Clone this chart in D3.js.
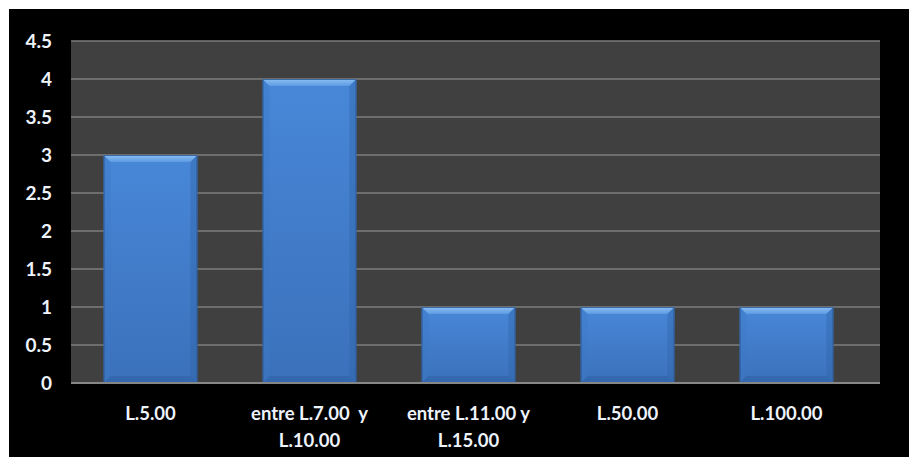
<!DOCTYPE html>
<html>
<head>
<meta charset="utf-8">
<script src="https://cdn.jsdelivr.net/npm/d3@7/dist/d3.min.js"></script>
<style>
  html, body { margin: 0; padding: 0; background: #ffffff; }
  svg { display: block; }
  text { font-family: Lato, "Open Sans", sans-serif; font-weight: bold; fill: #eef3fb; }
</style>
</head>
<body>
<svg id="chart" width="909" height="457"></svg>
<script>
// Price ranges and how many answers fell in each
const categories = [
  ["L.5.00"],
  ["entre L.7.00\u00a0 y", "L.10.00"],
  ["entre L.11.00 y", "L.15.00"],
  ["L.50.00"],
  ["L.100.00"]
];
const values = [3, 4, 1, 1, 1];
const yTicks = [0, 0.5, 1, 1.5, 2, 2.5, 3, 3.5, 4, 4.5];

const svg = d3.select("#chart");
const W = 909, H = 457;

// black chart frame with a thin white margin on the top and left
svg.append("rect").attr("x", 9).attr("y", 9).attr("width", W - 9).attr("height", H - 9).attr("fill", "#000");

const plot = { left: 71, right: 880, top: 41, bottom: 383 };

const x = d3.scaleBand()
  .domain(d3.range(categories.length))
  .range([plot.left, 866])
  .paddingInner(0.41)
  .paddingOuter(0.205);

const y = d3.scaleLinear().domain([0, 4.5]).range([plot.bottom, plot.top]);

// plot background
svg.append("rect")
  .attr("x", plot.left).attr("y", plot.top)
  .attr("width", plot.right - plot.left).attr("height", plot.bottom - plot.top)
  .attr("fill", "#404040");

// horizontal gridlines
svg.append("g").selectAll("line").data(yTicks.filter(d => d > 0)).join("line")
  .attr("x1", plot.left).attr("x2", plot.right)
  .attr("y1", d => y(d)).attr("y2", d => y(d))
  .attr("stroke", "#7c7c7c").attr("stroke-width", 1.6);

// y axis labels
const yAxis = d3.axisLeft(y).tickValues(yTicks).tickSize(0).tickPadding(0)
  .tickFormat(d => String(d));
const gy = svg.append("g").attr("transform", `translate(${plot.left - 19},0)`).call(yAxis);
gy.select(".domain").remove();
gy.selectAll("text").attr("font-size", 19).attr("fill", "#eef3fb")
  .attr("font-family", "Lato, sans-serif").attr("font-weight", "bold");

// gradients for the bevelled bars
const defs = svg.append("defs");
const g1 = defs.append("linearGradient").attr("id", "barFace").attr("x1", 0).attr("y1", 0).attr("x2", 0).attr("y2", 1);
g1.append("stop").attr("offset", 0).attr("stop-color", "#4887d8");
g1.append("stop").attr("offset", 1).attr("stop-color", "#3b71bb");
const gTop = defs.append("linearGradient").attr("id", "barTop").attr("x1", 0).attr("y1", 0).attr("x2", 0).attr("y2", 1);
gTop.append("stop").attr("offset", 0).attr("stop-color", "#8cc0f4");
gTop.append("stop").attr("offset", 1).attr("stop-color", "#5d9ae2");

const bev = 7;
const bars = svg.append("g").selectAll("g").data(values).join("g");
bars.each(function (v, i) {
  const g = d3.select(this);
  const x0 = x(i), x1 = x(i) + x.bandwidth();
  const y0 = y(v), y1 = y(0);
  g.append("rect").attr("x", x0).attr("y", y0).attr("width", x1 - x0).attr("height", y1 - y0)
    .attr("fill", "url(#barFace)");
  // top bevel
  g.append("path").attr("d", `M${x0},${y0}L${x1},${y0}L${x1 - bev},${y0 + bev}L${x0 + bev},${y0 + bev}Z`)
    .attr("fill", "url(#barTop)");
  // left and right bevels
  g.append("path").attr("d", `M${x0},${y0}L${x0 + bev},${y0 + bev}L${x0 + bev},${y1 - bev}L${x0},${y1}Z`)
    .attr("fill", "#3d78c6").attr("opacity", 0.35);
  g.append("path").attr("d", `M${x1},${y0}L${x1 - bev},${y0 + bev}L${x1 - bev},${y1 - bev}L${x1},${y1}Z`)
    .attr("fill", "#2f63a8").attr("opacity", 0.4);
  // bottom bevel
  g.append("path").attr("d", `M${x0},${y1}L${x0 + bev},${y1 - bev}L${x1 - bev},${y1 - bev}L${x1},${y1}Z`)
    .attr("fill", "#2f62a6").attr("opacity", 0.6);
  g.append("rect").attr("x", x0 + 0.5).attr("y", y0 + 0.5).attr("width", x1 - x0 - 1).attr("height", y1 - y0 - 1)
    .attr("fill", "none").attr("stroke", "#2a568f").attr("stroke-width", 1).attr("opacity", 0.8);
});

// x axis baseline
svg.append("line").attr("x1", plot.left).attr("x2", plot.right)
  .attr("y1", plot.bottom).attr("y2", plot.bottom)
  .attr("stroke", "#868686").attr("stroke-width", 2);

// category labels, possibly on two lines
const xl = svg.append("g").selectAll("text").data(categories).join("text")
  .attr("text-anchor", "middle").attr("font-size", 18.5)
  .attr("x", (d, i) => x(i) + x.bandwidth() / 2)
  .attr("y", 420);
xl.selectAll("tspan").data(d => d).join("tspan")
  .attr("x", function () { return d3.select(this.parentNode).attr("x"); })
  .attr("dy", (d, j) => j === 0 ? 0 : 27)
  .text(d => d);
</script>
</body>
</html>
